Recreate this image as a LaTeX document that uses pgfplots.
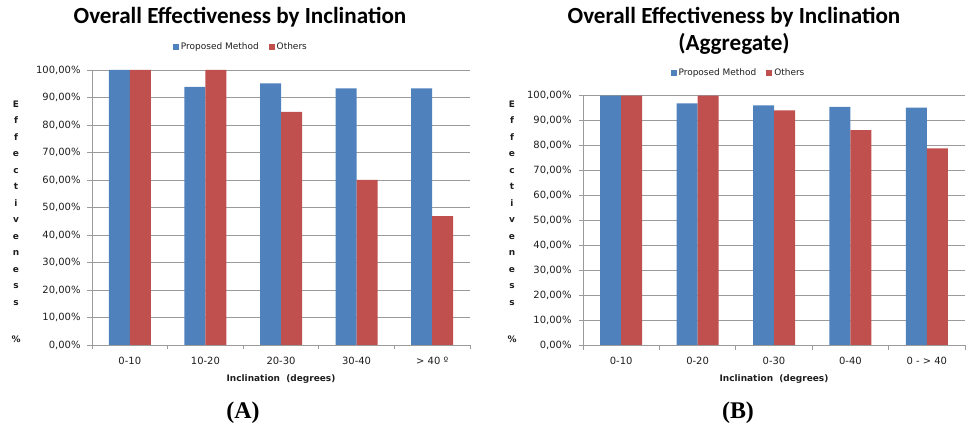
\documentclass[border=0pt]{standalone}
\usepackage{pgfplots}
\pgfplotsset{compat=1.18}
\usepackage{fontspec}
\setmainfont{DejaVu Sans}
\newfontfamily\titlefont{Carlito}
\newfontfamily\capfont{Liberation Serif}

\definecolor{propblue}{RGB}{79,129,189}
\definecolor{othred}{RGB}{192,80,77}
\definecolor{gridgray}{RGB}{155,155,155}
\definecolor{txt}{RGB}{30,30,30}

\pgfplotsset{
  effstyle/.style={
    scale only axis,
    anchor=south west,
    ybar=0pt, bar width=21bp,
    xmin=-0.5, xmax=4.5, ymin=0, ymax=100,
    xtick={-0.5,0.5,1.5,2.5,3.5,4.5},
    xticklabels={},
    extra x ticks={0,1,2,3,4},
    extra x tick style={major tick length=0pt,
      xticklabel style={yshift=-9bp}},
    ytick={0,10,...,100},
    yticklabel={\pgfmathprintnumber[fixed,fixed zerofill,precision=2,use comma,assume math mode=true]{\tick}\%},
    yticklabel style={xshift=-3.5bp},
    axis x line*=bottom, axis y line*=left,
    axis line style={gridgray, line width=0.8bp},
    ymajorgrids, major grid style={gridgray, line width=0.8bp},
    tick align=outside,
    major tick length=4.5bp,
    tick style={gridgray, line width=0.8bp},
    tick label style={text=txt, font=\fontsize{10}{12}\selectfont},
    xlabel style={at={(axis description cs:0.5,0)}, anchor=center, yshift=-34bp,
      text=txt, font=\bfseries\fontsize{9}{11}\selectfont},
    legend columns=2,
    legend style={draw=none, fill=none, anchor=center,
      font=\fontsize{9}{11}\selectfont, text=txt,
      /tikz/every even column/.append style={column sep=8bp}},
    legend image code/.code={\fill[#1] (0bp,-3bp) rectangle (6bp,3bp);},
  },
}

\begin{document}
\begin{tikzpicture}
\useasboundingbox (0,0) rectangle (970bp,431bp);

% (A) effectiveness per inclination band
\begin{axis}[effstyle,
    at={(92bp,86bp)}, width=378bp, height=275bp,
    extra x tick labels={0-10,10-20,20-30,30-40,> 40 º},
    xlabel={Inclination\ \ (degrees)},
    legend style={at={(0.394,1.0836)}},
  ]
  \addplot[fill=propblue, draw=none] coordinates {(0,100) (1,93.9) (2,95.1) (3,93.3) (4,93.3)};
  \addplot[fill=othred, draw=none] coordinates {(0,100) (1,100) (2,84.8) (3,60.0) (4,46.9)};
  \legend{Proposed Method, Others}
\end{axis}

% (B) cumulative effectiveness
\begin{axis}[effstyle,
    at={(583bp,86bp)}, width=382bp, height=249.3bp,
    extra x tick labels={0-10,0-20,0-30,0-40,0 - > 40},
    xlabel={Inclination\ \ (degrees)},
    legend style={at={(0.407,1.091)}},
  ]
  \addplot[fill=propblue, draw=none] coordinates {(0,100) (1,96.9) (2,96.1) (3,95.5) (4,95.2)};
  \addplot[fill=othred, draw=none] coordinates {(0,100) (1,100) (2,94.1) (3,86.2) (4,78.9)};
  \legend{Proposed Method, Others}
\end{axis}

% chart titles
\node[font=\titlefont\bfseries\fontsize{23.2}{27}\selectfont] at (240bp,414bp)
  {Overall Effectiveness by Inclination};
\node[font=\titlefont\bfseries\fontsize{23.2}{27}\selectfont, align=center] at (734bp,400.5bp)
  {Overall Effectiveness by Inclination\\(Aggregate)};

% stacked y-axis titles
\foreach \xx in {16,512} {
  \foreach \c [count=\i from 0] in {E,f,f,e,c,t,i,v,e,n,e,s,s} {
    \node[font=\bfseries\fontsize{9}{11}\selectfont, text=txt, anchor=base, inner sep=0pt]
      at (\xx bp, {(323.7-16.5*\i)*1bp}) {\c};
  }
  \node[font=\bfseries\fontsize{9}{11}\selectfont, text=txt, anchor=base, inner sep=0pt]
    at (\xx bp, 88.7bp) {\%};
}

% panel captions
\node[font=\capfont\bfseries\fontsize{24}{28}\selectfont] at (243bp,18bp) {(A)};
\node[font=\capfont\bfseries\fontsize{24}{28}\selectfont] at (738bp,18bp) {(B)};
\end{tikzpicture}
\end{document}
